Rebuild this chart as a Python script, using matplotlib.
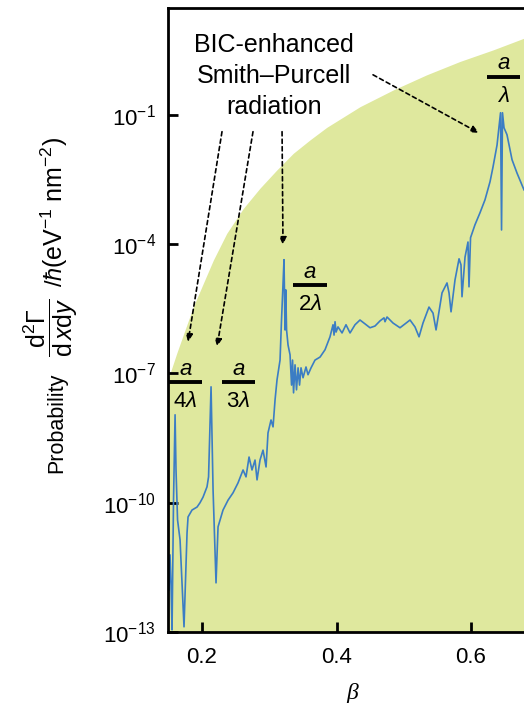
import numpy as np
import matplotlib
matplotlib.use("Agg")
import matplotlib.pyplot as plt
from matplotlib.ticker import NullLocator

plt.rcParams["font.family"] = ["Liberation Sans", "DejaVu Sans"]
plt.rcParams["mathtext.fontset"] = "custom"
plt.rcParams["mathtext.rm"] = "Liberation Sans"
plt.rcParams["mathtext.it"] = "Liberation Sans:italic"
plt.rcParams["mathtext.bf"] = "Liberation Sans:bold"
plt.rcParams["mathtext.fallback"] = "stixsans"

# Electron velocity beta and emission probability (log10, eV^-1 nm^-2)
beta = [
    0.1494, 0.1509, 0.1524, 0.1539, 0.1554, 0.1576, 0.1599, 0.1613, 0.1636, 0.1673,
    0.1732, 0.1777, 0.1792, 0.1851, 0.1926, 0.1970, 0.2015, 0.2074, 0.2097, 0.2134,
    0.2164, 0.2208, 0.2238, 0.2312, 0.2387, 0.2461, 0.2535, 0.2610, 0.2654, 0.2699,
    0.2743, 0.2788, 0.2818, 0.2862, 0.2907, 0.2952, 0.2981, 0.3026, 0.3056, 0.3086,
    0.3115, 0.3160, 0.3182, 0.3204, 0.3219, 0.3234, 0.3245, 0.3257, 0.3279, 0.3309,
    0.3331, 0.3346, 0.3361, 0.3383, 0.3405, 0.3428, 0.3450, 0.3472, 0.3502, 0.3546,
    0.3576, 0.3621, 0.3680, 0.3755, 0.3829, 0.3903, 0.3948, 0.3963, 0.3978, 0.3993,
    0.4022, 0.4082, 0.4141, 0.4201, 0.4275, 0.4349, 0.4424, 0.4498, 0.4572, 0.4647,
    0.4706, 0.4721, 0.4751, 0.4840, 0.4944, 0.5019, 0.5093, 0.5167, 0.5227, 0.5286,
    0.5375, 0.5435, 0.5480, 0.5569, 0.5643, 0.5673, 0.5703, 0.5762, 0.5822, 0.5851,
    0.5866, 0.5911, 0.5955, 0.5970, 0.5993, 0.6059, 0.6134, 0.6208, 0.6283, 0.6327,
    0.6387, 0.6416, 0.6439, 0.6454, 0.6468, 0.6491, 0.6535, 0.6610, 0.6684, 0.6788,
]
log_prob = [
    -11.33, -12.03, -11.21, -11.91, -12.95, -9.94, -7.96, -9.24, -10.40, -10.86,
    -12.88, -10.70, -10.33, -10.17, -10.10, -10.00, -9.87, -9.63, -9.40, -7.31,
    -9.70, -11.86, -10.56, -10.17, -9.94, -9.77, -9.54, -9.24, -9.40, -8.94,
    -9.24, -9.01, -9.47, -9.01, -8.78, -9.17, -8.38, -8.08, -8.24, -7.61,
    -7.15, -6.69, -5.76, -4.94, -4.36, -5.99, -5.06, -5.99, -6.34, -6.57,
    -7.27, -6.69, -7.45, -6.80, -7.38, -6.87, -7.27, -6.87, -7.10, -6.85,
    -7.03, -6.87, -6.69, -6.62, -6.45, -6.15, -5.87, -6.11, -5.80, -6.04,
    -5.92, -6.06, -5.87, -6.06, -5.87, -5.76, -5.85, -5.94, -5.90, -5.78,
    -5.71, -5.80, -5.69, -5.83, -5.94, -5.85, -5.76, -5.92, -6.15, -5.83,
    -5.46, -5.60, -5.99, -5.13, -4.90, -5.13, -5.57, -4.83, -4.34, -4.48,
    -5.22, -4.30, -3.95, -4.99, -3.85, -3.55, -3.27, -2.97, -2.55, -2.21,
    -1.70, -1.28, -0.95, -3.67, -0.95, -1.30, -1.46, -2.04, -2.35, -2.74,
]

# Upper bound of the probability (shaded region)
bound_beta = [0.1494, 0.1524, 0.1624, 0.1747, 0.1871, 0.2019, 0.2168, 0.2367,
              0.2614, 0.2862, 0.3111, 0.3358, 0.3606, 0.3854, 0.4349, 0.4845,
              0.5341, 0.5836, 0.6332, 0.6788]
bound_log = [-7.12, -7.00, -6.53, -5.99, -5.45, -4.91, -4.37, -3.75,
             -3.17, -2.70, -2.28, -1.89, -1.58, -1.29, -0.81, -0.42,
             -0.07, 0.24, 0.51, 0.78]

xticks = [0.2, 0.4, 0.6]
xtick_labels = ["0.2", "0.4", "0.6"]
ytick_exp = [-13, -10, -7, -4, -1]
ytick_labels = [r"$10^{-13}$", r"$10^{-10}$", r"$10^{-7}$", r"$10^{-4}$", r"$10^{-1}$"]

# Resonance labels: (centre beta, log10 of bar height, half width in beta, numerator, denominator)
orders = [
    (0.1755, -7.20, 0.0245, r"$a$", r"$4\mathit{\lambda}$"),
    (0.2543, -7.20, 0.0245, r"$a$", r"$3\mathit{\lambda}$"),
    (0.3606, -4.95, 0.0253, r"$a$", r"$2\mathit{\lambda}$"),
    (0.6483, -0.12, 0.0245, r"$a$", r"$\mathit{\lambda}$"),
]

# Dashed pointers from the caption to each resonance: (start, end) in (beta, log10)
pointers = [
    ((0.2297, -1.39), (0.1792, -6.27)),
    ((0.2758, -1.39), (0.2223, -6.38)),
    ((0.3190, -1.39), (0.3204, -4.02)),
    ((0.4543, -0.07), (0.6119, -1.42)),
]

FILL = "#dfe89e"
BLUE = "#3b7dc4"

fig = plt.figure(figsize=(5.24, 7.03), dpi=100)
ax = fig.add_axes([0.3214, 0.1010, 0.6786, 0.8876])

ax.fill_between(bound_beta, 1e-13, 10.0 ** np.array(bound_log), color=FILL, lw=0, zorder=0)
ax.plot(beta, 10.0 ** np.array(log_prob), color=BLUE, lw=1.2, zorder=2)

ax.set_yscale("log")
ax.set_xlim(0.15, 0.6788)
ax.set_ylim(1e-13, 10 ** 1.48)
ax.set_xticks(xticks, xtick_labels)
ax.set_yticks(10.0 ** np.array(ytick_exp, dtype=float), ytick_labels)
ax.yaxis.set_minor_locator(NullLocator())
ax.xaxis.set_minor_locator(NullLocator())
ax.tick_params(direction="in", length=7.5, width=2, labelsize=16, top=False, right=False)
ax.tick_params(axis="x", pad=11)
ax.tick_params(axis="y", pad=9)
for side in ("left", "bottom", "top"):
    ax.spines[side].set_linewidth(2)
ax.spines["right"].set_visible(False)

for xc, lb, hw, num, den in orders:
    yb = 10 ** lb
    ax.plot([xc - hw, xc + hw], [yb, yb], color="k", lw=2.8, solid_capstyle="butt", zorder=3)
    ax.annotate(num, (xc, yb), xytext=(0, 1.8), textcoords="offset points",
                ha="center", va="bottom", fontsize=16, zorder=3)
    ax.annotate(den, (xc, yb), xytext=(0, -6.5), textcoords="offset points",
                ha="center", va="top", fontsize=16, zorder=3)

for (x0, l0), (x1, l1) in pointers:
    ax.annotate("", xy=(x1, 10 ** l1), xytext=(x0, 10 ** l0),
                arrowprops=dict(arrowstyle="-|>,head_length=0.45,head_width=0.2",
                                color="k", lw=1.2, linestyle=(0, (2.5, 2)),
                                shrinkA=0, shrinkB=0), zorder=3)

ax.text(0.3071, 10 ** -0.10, "BIC-enhanced\nSmith\u2013Purcell\nradiation",
        ha="center", va="center", fontsize=18, linespacing=1.35, zorder=3)

fig.text(352 / 524, 1 - 693 / 703, "\u03b2", fontfamily="Liberation Serif", style="italic",
         fontsize=17, ha="center", va="center")

# Y-axis title assembled from rotated pieces
fig.text(62.5 / 524, 1 - 423 / 703, "Probability", rotation=90, rotation_mode="anchor",
         ha="center", va="baseline", fontsize=15.5)
fig.text(51 / 524, 1 - 327 / 703,
         r"$\dfrac{\mathrm{d}^2\mathit{\Gamma}}{\mathrm{d}\,\mathit{x}\mathrm{d}\mathit{y}}$",
         rotation=90, rotation_mode="anchor", ha="center", va="center", fontsize=18)
fig.text(62.5 / 524, 1 - 277 / 703, r"$/\mathit{\hbar}$",
         rotation=90, rotation_mode="anchor", ha="center", va="baseline", fontsize=17)
fig.text(62.5 / 524, 1 - 202 / 703, r"$(\mathrm{eV}^{-1}\ \mathrm{nm}^{-2})$",
         rotation=90, rotation_mode="anchor", ha="center", va="baseline", fontsize=18)

fig.savefig("out.png", dpi=100)
